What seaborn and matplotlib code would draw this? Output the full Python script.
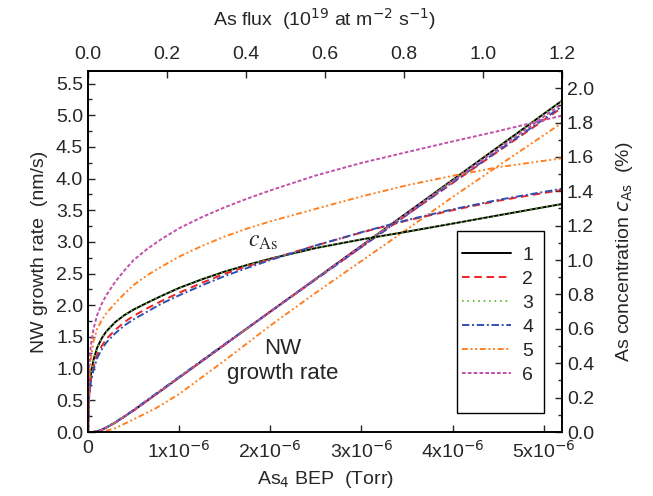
import matplotlib
matplotlib.use("Agg")
import matplotlib.pyplot as plt
import seaborn as sns
from matplotlib.ticker import MultipleLocator, FixedLocator
from matplotlib.patches import Rectangle

# BEP grid (units of 1e-6 Torr) for the growth-rate curves
bep_gr = [0, 0.05, 0.1, 0.15, 0.2, 0.3, 0.4, 0.5, 0.75, 1.0, 1.5, 2.0, 2.5, 3.0, 3.5, 4.0, 4.5, 5.2]
gr_1 = [0, 0, 0.01, 0.035, 0.07, 0.15, 0.245, 0.34, 0.6, 0.86, 1.38, 1.9, 2.42, 2.94, 3.46, 3.98, 4.5, 5.23]
gr_2 = [0, 0, 0.01, 0.035, 0.07, 0.15, 0.245, 0.34, 0.6, 0.86, 1.38, 1.9, 2.41, 2.92, 3.43, 3.93, 4.43, 5.12]
gr_3 = [0, 0, 0.01, 0.035, 0.07, 0.15, 0.245, 0.34, 0.6, 0.86, 1.38, 1.9, 2.42, 2.94, 3.46, 3.98, 4.5, 5.23]
gr_4 = [0, 0, 0.01, 0.035, 0.07, 0.155, 0.25, 0.35, 0.61, 0.87, 1.39, 1.9, 2.41, 2.92, 3.43, 3.94, 4.44, 5.14]
gr_5 = [0, 0, 0, 0.005, 0.02, 0.06, 0.13, 0.2, 0.38, 0.6, 1.13, 1.68, 2.2, 2.7, 3.2, 3.71, 4.2, 4.88]
gr_6 = [0, 0, 0.01, 0.035, 0.07, 0.15, 0.245, 0.34, 0.6, 0.86, 1.38, 1.9, 2.42, 2.94, 3.45, 3.96, 4.47, 5.18]

# BEP grid for the As concentration curves
bep_c = [0, 0.01, 0.03, 0.06, 0.1, 0.15, 0.2, 0.3, 0.4, 0.5, 0.65, 0.8, 1.0, 1.25, 1.5, 1.75, 2.0, 2.5, 3.0, 3.5, 4.0, 4.5, 5.2]
c_1 = [0, 0.22, 0.33, 0.42, 0.49, 0.545, 0.585, 0.64, 0.68, 0.712, 0.752, 0.79, 0.838, 0.888, 0.933, 0.972, 1.008, 1.07, 1.12, 1.165, 1.212, 1.26, 1.326]
c_2 = [0, 0.2, 0.3, 0.38, 0.45, 0.5, 0.54, 0.595, 0.64, 0.675, 0.72, 0.76, 0.81, 0.868, 0.92, 0.965, 1.005, 1.085, 1.16, 1.23, 1.29, 1.345, 1.408]
c_3 = [0, 0.22, 0.33, 0.42, 0.49, 0.545, 0.585, 0.64, 0.68, 0.712, 0.752, 0.79, 0.838, 0.888, 0.933, 0.972, 1.008, 1.07, 1.12, 1.165, 1.212, 1.26, 1.326]
c_4 = [0, 0.19, 0.29, 0.36, 0.43, 0.48, 0.52, 0.575, 0.62, 0.655, 0.7, 0.745, 0.795, 0.853, 0.907, 0.955, 1.0, 1.085, 1.162, 1.233, 1.295, 1.35, 1.415]
c_5 = [0, 0.28, 0.42, 0.53, 0.6, 0.65, 0.69, 0.75, 0.805, 0.855, 0.912, 0.96, 1.02, 1.082, 1.137, 1.184, 1.225, 1.298, 1.37, 1.435, 1.49, 1.54, 1.592]
c_6 = [0, 0.35, 0.5, 0.6, 0.68, 0.745, 0.795, 0.875, 0.94, 1.0, 1.065, 1.12, 1.185, 1.25, 1.307, 1.358, 1.405, 1.492, 1.565, 1.628, 1.69, 1.75, 1.84]

labels = ["1", "2", "3", "4", "5", "6"]
colors = ["#000000", "#ee2222", "#66bb33", "#3050b0", "#ff8020", "#c050a8"]
styles = [
    "-",
    (0, (3.9, 2.4)),
    (0, (0.8, 2.0)),
    (0, (3.8, 1.4, 1.0, 1.4)),
    (0, (3.0, 1.4, 1.0, 1.4, 1.0, 1.4)),
    (0, (1.9, 1.1)),
]

bottom_ticks = [0, 1, 2, 3, 4, 5]
bottom_ticklabels = ["0", r"1x10$^{-6}$", r"2x10$^{-6}$", r"3x10$^{-6}$", r"4x10$^{-6}$", r"5x10$^{-6}$"]
top_ticks = [0.0, 0.2, 0.4, 0.6, 0.8, 1.0, 1.2]

sns.set_theme(style="ticks")
plt.rcParams["font.family"] = ["Liberation Sans Narrow", "Liberation Sans", "DejaVu Sans"]
plt.rcParams["mathtext.fontset"] = "custom"
plt.rcParams["mathtext.rm"] = "Liberation Sans Narrow"
plt.rcParams["mathtext.it"] = "Liberation Sans Narrow:italic"

fig, ax = plt.subplots(figsize=(6.53, 4.96), dpi=100)
fig.subplots_adjust(left=0.1348, right=0.8606, bottom=0.129, top=0.857)
ax2 = ax.twinx()

grs = [gr_1, gr_2, gr_3, gr_4, gr_5, gr_6]
cs = [c_1, c_2, c_3, c_4, c_5, c_6]
lw = 1.4
for i in range(6):
    sns.lineplot(x=bep_gr, y=grs[i], ax=ax, color=colors[i], linestyle=styles[i],
                 linewidth=lw, label=labels[i], sort=False, estimator=None)
    sns.lineplot(x=bep_c, y=cs[i], ax=ax2, color=colors[i], linestyle=styles[i],
                 linewidth=lw, sort=False, estimator=None, legend=False)

fs = 14
ax.set_xlim(0, 5.2)
ax.set_ylim(0, 5.7)
ax2.set_ylim(0, 2.1)
ax.xaxis.set_major_locator(FixedLocator(bottom_ticks))
ax.set_xticklabels(bottom_ticklabels)
ax.yaxis.set_major_locator(MultipleLocator(0.5))
ax.yaxis.set_minor_locator(MultipleLocator(0.25))
ax2.yaxis.set_major_locator(MultipleLocator(0.2))
ax2.yaxis.set_minor_locator(MultipleLocator(0.1))

ax.set_xlabel(r"As$_4$ BEP  (Torr)", fontsize=fs, labelpad=5)
ax.set_ylabel("NW growth rate  (nm/s)", fontsize=fs, labelpad=6)
ax2.set_ylabel(r"As concentration $c_{\rm As}$  (%)", fontsize=fs, labelpad=14)

top = ax.secondary_xaxis("top", functions=(lambda v: v * 1.2 / 5.2, lambda v: v * 5.2 / 1.2))
top.xaxis.set_major_locator(FixedLocator(top_ticks))
top.set_xticklabels(["%.1f" % t for t in top_ticks])
top.set_xlabel(r"As flux  (10$^{19}$ at m$^{-2}$ s$^{-1}$)", fontsize=fs, labelpad=14)
top.tick_params(direction="in", length=5, width=1, labelsize=fs, pad=6)

ax.tick_params(axis="both", which="major", direction="in", length=5, width=1, labelsize=fs)
ax.tick_params(axis="y", which="minor", direction="in", length=3, width=1)
ax.tick_params(axis="x", pad=6)
ax2.tick_params(axis="y", which="major", direction="in", length=5, width=1, labelsize=fs)
ax2.tick_params(axis="y", which="minor", direction="in", length=3, width=1)

for a in (ax, ax2):
    for s in a.spines.values():
        s.set_linewidth(1.2)
        s.set_color("black")
top.spines["top"].set_linewidth(1.2)

ax.text(1.75, 2.93, r"$c_{\rm As}$", fontsize=17, math_fontfamily="stix", va="baseline")
ax.text(2.14, 1.12, "NW\ngrowth rate", fontsize=16, ha="center", va="center", linespacing=1.25)

# legend drawn on the twin axis so it sits above all curves; frame drawn separately
handles, _ = ax.get_legend_handles_labels()
ax.get_legend().remove()
leg = ax2.legend(handles, labels, loc="upper left", bbox_to_anchor=(0.789, 0.515), fontsize=fs,
                 frameon=False, handlelength=2.5, handletextpad=0.6,
                 labelspacing=0.33, borderpad=0.0, borderaxespad=0)
box = Rectangle((0.778, 0.053), 0.184, 0.504, transform=ax2.transAxes, fill=True,
                facecolor="white", edgecolor="black", linewidth=1.0, zorder=4)
ax2.add_patch(box)
leg.set_zorder(5)

fig.savefig("out.png", dpi=100)
